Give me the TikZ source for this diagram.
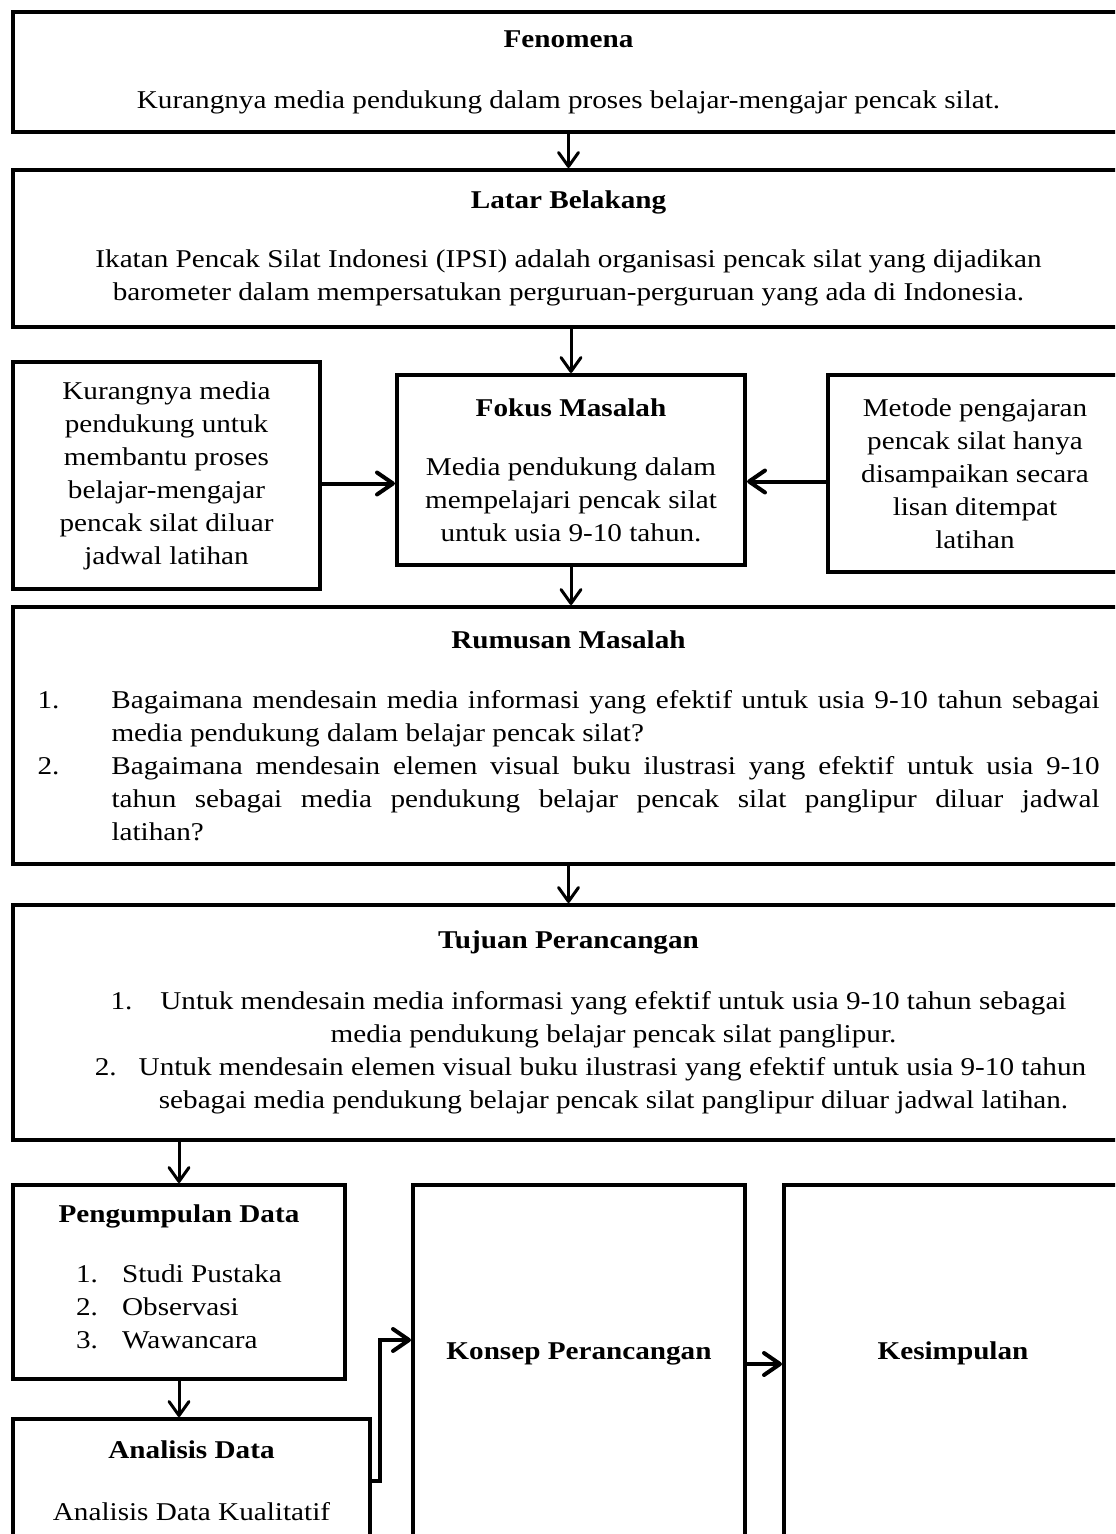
\documentclass[tikz,border=0pt]{standalone}
\usepackage{fontspec}
\setmainfont{Liberation Serif}[FakeStretch=1.14]
\usetikzlibrary{arrows.meta,positioning}

\begin{document}
\begin{tikzpicture}[x=1pt, y=-1pt,
        kotak/.style={draw, rectangle, line width=2pt, anchor=north west, align=center, inner sep=4pt, font=\fontsize{12.8}{16.5}\selectfont},
        panah/.style={-{Straight Barb[length=7pt, width=10pt, round]}, line width=1.5pt},
        panahtebal/.style={-{Straight Barb[length=8pt, width=11pt, round]}, line width=2pt}]
        \useasboundingbox (0,0) rectangle (557.5,767);
        \clip (0,0) rectangle (557.5,767);
        \node (fenomena) [kotak, minimum width=555.5pt, minimum height=60pt] at (5.5,5) {\textbf{Fenomena}\\[14pt]Kurangnya media pendukung dalam proses belajar-mengajar pencak silat.};
        \node (latar) [kotak, minimum width=555.5pt, minimum height=78.5pt] at (5.5,84) {\textbf{Latar Belakang}\\[13pt]Ikatan Pencak Silat Indonesi (IPSI) adalah organisasi pencak silat yang dijadikan\\barometer dalam mempersatukan perguruan-perguruan yang ada di Indonesia.};
        \node (kurang) [kotak, minimum width=153.5pt, minimum height=113.5pt] at (5.5,180) {Kurangnya media\\pendukung untuk\\membantu proses\\belajar-mengajar\\pencak silat diluar\\jadwal latihan};
        \node (fokus) [kotak, minimum width=174pt, minimum height=95pt] at (197.5,186.5) {\textbf{Fokus Masalah}\\[13pt]Media pendukung dalam\\mempelajari pencak silat\\untuk usia 9-10 tahun.};
        \node (metode) [kotak, minimum width=147pt, minimum height=98.5pt] at (413,186.5) {Metode pengajaran\\pencak silat hanya\\disampaikan secara\\lisan ditempat\\latihan};
        \node (rumusan) [kotak, minimum width=555.5pt, minimum height=128.5pt, text width=531pt, align=justify, inner xsep=12pt] at (5.5,302.5) {%
            {\centering\textbf{Rumusan Masalah}\par}\vspace{13.5pt}
            \hyphenpenalty=10000\exhyphenpenalty=10000
            \noindent\hangindent=37pt\hangafter=1\makebox[37pt][l]{1.}Bagaimana mendesain media informasi yang efektif untuk usia 9-10 tahun sebagai\linebreak media pendukung dalam belajar pencak silat?\par
            \noindent\hangindent=37pt\hangafter=1\makebox[37pt][l]{2.}Bagaimana mendesain elemen visual buku ilustrasi yang efektif untuk usia 9-10\linebreak tahun sebagai media pendukung belajar pencak silat panglipur diluar jadwal\linebreak latihan?\par};
        \node (tujuan) [kotak, minimum width=555.5pt, minimum height=117.5pt] at (5.5,451.5) {\textbf{Tujuan Perancangan}\\[14pt]
            \hspace*{20pt}1.\hspace{14pt}Untuk mendesain media informasi yang efektif untuk usia 9-10 tahun sebagai\\
            \hspace*{45pt}media pendukung belajar pencak silat panglipur.\\
            \hspace*{22pt}2.\hspace{11pt}Untuk mendesain elemen visual buku ilustrasi yang efektif untuk usia 9-10 tahun\\
            \hspace*{45pt}sebagai media pendukung belajar pencak silat panglipur diluar jadwal latihan.};
        \node (kumpul) [kotak, minimum width=166pt, minimum height=97pt] at (5.5,591.5) {\textbf{Pengumpulan Data}\\[13.5pt]\begin{tabular}[t]{@{}p{23pt}@{}l@{}}1.&Studi Pustaka\\2.&Observasi\\3.&Wawancara\end{tabular}};
        \node (analisis) [kotak, minimum width=178.5pt, minimum height=62pt] at (5.5,708.5) {\textbf{Analisis Data}\\[14.5pt]Analisis Data Kualitatif};
        \node (konsep) [kotak, minimum width=166pt, minimum height=179pt, text depth=13pt] at (205.5,591.5) {\textbf{Konsep Perancangan}};
        \node (simpul) [kotak, minimum width=169pt, minimum height=179pt, text depth=13pt] at (391,591.5) {\textbf{Kesimpulan}};
        \coordinate (tekuk) at (190,670);
        \draw [panah] (fenomena) -- (latar);
        \draw [panah] (latar.south -| fokus.north) -- (fokus.north);
        \draw [panahtebal] ([yshift=-4pt]kurang.east) -- ([yshift=-4pt]kurang.east -| fokus.west);
        \draw [panahtebal] ([yshift=-4pt]metode.west) -- ([yshift=-4pt]metode.west -| fokus.east);
        \draw [panah] (fokus.south) -- (fokus.south |- rumusan.north);
        \draw [panah] (rumusan) -- (tujuan);
        \draw [panah] (tujuan.south -| kumpul.north) -- (kumpul.north);
        \draw [panah] (kumpul.south) -- (kumpul.south |- analisis.north);
        \draw [panahtebal] (analisis.east) -| (tekuk) -- (tekuk -| konsep.west);
        \draw [panahtebal] (konsep) -- (simpul);
    \end{tikzpicture}
\end{document}
